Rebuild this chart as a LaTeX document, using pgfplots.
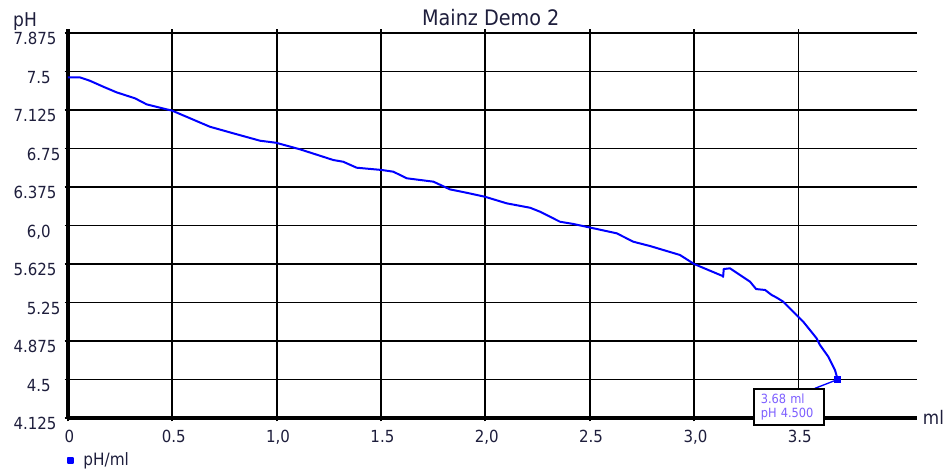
\documentclass[border=0pt]{standalone}
\usepackage{pgfplots}
\pgfplotsset{compat=1.18}
\usepackage{fontspec}
\setmainfont{DejaVu Sans Condensed}
\definecolor{txt}{RGB}{30,30,60}
\definecolor{annot}{RGB}{125,95,255}
\definecolor{curve}{RGB}{0,0,255}
\tikzset{ylab/.style={anchor=north west, inner sep=0pt, yshift=0.5pt, font=\fontsize{12.5}{14}\selectfont, text=txt}}
\begin{document}
\begin{tikzpicture}
\begin{axis}[
  at={(51pt,42pt)}, anchor=south west,
  scale only axis, width=636.75pt, height=291.5pt,
  xmin=0, xmax=4.068, ymin=4.125, ymax=7.911,
  axis lines=left,
  axis line style={-, line width=2.4pt, black},
  xtick={0,0.5,1,1.5,2,2.5,3,3.5},
  xticklabels={0,0.5,{1,0},1.5,{2,0},2.5,{3,0},3.5},
  ytick={4.125,4.5,4.875,5.25,5.625,6,6.375,6.75,7.125,7.5,7.875},
  yticklabels={},
  grid=major, major grid style={black, line width=1.4pt},
  tick align=outside, major tick length=2.5pt, tick style={black, line width=1.4pt},
  xticklabel style={anchor=north, inner sep=0pt, yshift=-6.5pt, xshift=1pt, font=\fontsize{12.5}{14}\selectfont, text=txt},
  clip=false,
  legend style={at={(rel axis cs:-0.0015,-0.1093)}, anchor=west, draw=none, fill=none, inner sep=0pt,
    nodes={inner sep=0pt, text=txt, font=\fontsize{12.75}{14}\selectfont}, column sep=7pt},
  legend cell align=left,
]
\addplot[curve, line width=1.5pt, line join=round,
  legend image code/.code={\fill[curve] (-1.9pt,-1.9pt) rectangle (1.9pt,1.9pt);}]
coordinates {
(0,7.443) (0.057,7.443) (0.105,7.41) (0.169,7.352) (0.233,7.297) (0.321,7.239)
(0.377,7.180) (0.5,7.118) (0.68,6.962) (0.792,6.898) (0.92,6.826) (0.997,6.806)
(1.112,6.742) (1.271,6.638) (1.319,6.621) (1.383,6.563) (1.503,6.541) (1.559,6.524)
(1.623,6.460) (1.751,6.427) (1.830,6.352) (1.910,6.319) (1.998,6.280) (2.102,6.216)
(2.214,6.173) (2.262,6.134) (2.357,6.037) (2.421,6.015) (2.504,5.979) (2.629,5.924)
(2.709,5.842) (2.789,5.800) (2.932,5.713) (3.0,5.625) (3.076,5.560) (3.137,5.508)
(3.139,5.500) (3.142,5.576) (3.172,5.583) (3.220,5.518) (3.268,5.453) (3.297,5.381)
(3.340,5.372) (3.372,5.323) (3.396,5.297) (3.427,5.258) (3.491,5.128) (3.523,5.063)
(3.587,4.901) (3.603,4.836) (3.643,4.722) (3.675,4.592) (3.688,4.500)
};
\addlegendentry{pH/ml}
\addplot[only marks, mark=square*, mark size=2.2pt, curve, forget plot] coordinates {(3.688,4.5)};
\draw[curve, line width=1pt] (axis cs:3.688,4.5) -- (axis cs:3.579,4.414);
\node[draw=black, line width=1.1pt, fill=white, anchor=north west, minimum height=27pt,
  text width=42.5pt, inner xsep=5pt, inner ysep=0pt, align=left, text=annot,
  font=\fontsize{9.5}{10}\selectfont] at (axis cs:3.284,4.414) {3.68 ml\\pH 4.500};
% y tick labels
\node[ylab, xshift=-41pt] at (axis cs:0,4.125) {4.125};
\node[ylab, xshift=-31pt] at (axis cs:0,4.5) {4.5};
\node[ylab, xshift=-41pt] at (axis cs:0,4.875) {4.875};
\node[ylab, xshift=-31pt] at (axis cs:0,5.25) {5.25};
\node[ylab, xshift=-41pt] at (axis cs:0,5.625) {5.625};
\node[ylab, xshift=-31pt] at (axis cs:0,6) {6,0};
\node[ylab, xshift=-41pt] at (axis cs:0,6.375) {6.375};
\node[ylab, xshift=-31pt] at (axis cs:0,6.75) {6.75};
\node[ylab, xshift=-41pt] at (axis cs:0,7.125) {7.125};
\node[ylab, xshift=-31pt] at (axis cs:0,7.5) {7.5};
\node[ylab, xshift=-41pt] at (axis cs:0,7.875) {7.875};
\node[anchor=base, inner sep=0pt, font=\fontsize{16}{18}\selectfont, text=txt] at (rel axis cs:0.498,1.0087) {Mainz Demo 2};
\node[anchor=base west, inner sep=0pt, font=\fontsize{14.25}{16}\selectfont, text=txt] at (rel axis cs:-0.0648,1.0067) {pH};
\node[anchor=base west, inner sep=0pt, font=\fontsize{14}{16}\selectfont, text=txt] at (rel axis cs:1.0067,-0.018) {ml};
\end{axis}
\pgfresetboundingbox
\path[use as bounding box] (0,0) rectangle (712.5pt,355.5pt);
\end{tikzpicture}
\end{document}
